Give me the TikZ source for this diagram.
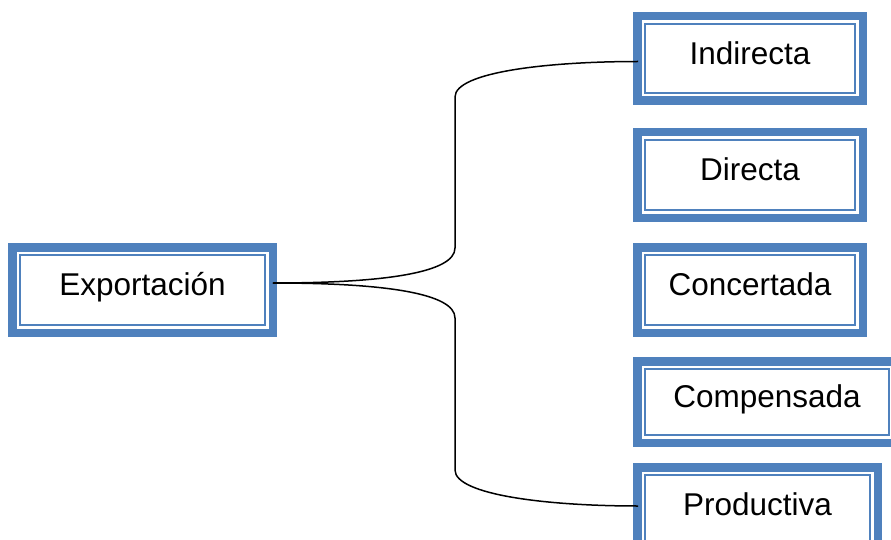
\documentclass[tikz,border=0pt]{standalone}
\usepackage{fontspec}
\setmainfont{Liberation Sans}
\usepackage{tikz}
\usetikzlibrary{calc}

\definecolor{frameblue}{HTML}{4F81BD}

\tikzset{
    framebox/.style={draw=frameblue, line width=1.6pt, fill=white, inner sep=0pt,
        preaction={draw=frameblue, line width=24pt},
        preaction={draw=white, line width=7pt},
        text height=20pt, text depth=8.4pt,
        font=\fontsize{31.5}{38}\selectfont},
    link/.style={draw=black, line width=1.5pt}
}

\begin{document}
\begin{tikzpicture}[x=1pt, y=-1pt]
    % Marco de la figura
    \useasboundingbox (0,0) rectangle (891,540);

    % Cajas
    \node[framebox, minimum width=245pt, minimum height=70pt] (expo) at (142.5,290) {Exportación};
    \node[framebox, minimum width=210pt, minimum height=69pt] (ind)  at (750,58.5) {Indirecta};
    \node[framebox, minimum width=210pt, minimum height=70pt] (dir)  at (750,175)  {Directa};
    \node[framebox, minimum width=210pt, minimum height=70pt] (conc) at (750,290)  {Concertada};
    \node[framebox, minimum width=244pt, minimum height=66pt] (comp) at (767,402)  {Compensada};
    \node[framebox, minimum width=225pt, minimum height=70pt] (prod) at (757.5,510) {Productiva};

    % Llave
    \coordinate (upbot) at (455,248);
    \coordinate (uptop) at (455,97);
    \coordinate (lowtop) at (455,318);
    \coordinate (lowbot) at (455,470);

    \draw[link] ([shift={(7pt,7pt)}]expo.east) .. controls +(110,0) and +(0,25) .. (upbot)
        -- (uptop) .. controls +(0,-25) and +(-90,0) .. ([shift={(-6pt,-3pt)}]ind.west);
    \draw[link] ([shift={(7pt,7pt)}]expo.east) .. controls +(110,0) and +(0,-25) .. (lowtop)
        -- (lowbot) .. controls +(0,25) and +(-90,0) .. ([shift={(-6pt,4pt)}]prod.west);
\end{tikzpicture}
\end{document}
